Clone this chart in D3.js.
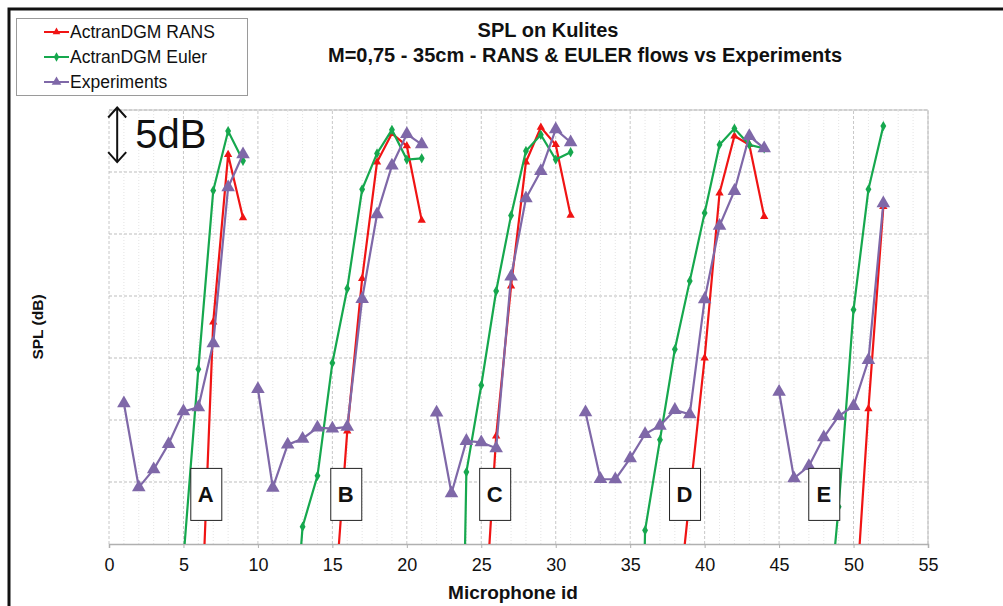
<!DOCTYPE html>
<html>
<head>
<meta charset="utf-8">
<script src="https://cdn.jsdelivr.net/npm/d3@7/dist/d3.min.js"></script>
<style>
  body { margin: 0; background: #fff; }
  text { font-family: "Liberation Sans", Arial, sans-serif; }
</style>
</head>
<body>
<div id="chart"></div>
<script>
// microphone ids along the x axis
const mics = [1, 2, 3, 4, 5, 6, 7, 8, 9, 10, 11, 12, 13, 14, 15, 16, 17, 18, 19, 20,
  21, 22, 23, 24, 25, 26, 27, 28, 29, 30, 31, 32, 33, 34, 35, 36, 37, 38, 39, 40,
  41, 42, 43, 44, 45, 46, 47, 48, 49, 50, 51, 52];

// relative SPL (dB), null = no value; values below 0 run off the bottom of the plot
const rans = [null, null, null, null, null, -12.7, 17.9, 31.4, 26.3,
  null, null, null, null, null, -7.2, 9.1, 21.4, 30.8, 33.1, 32.1, 26.1,
  null, null, null, -10.6, 8.7, 20.8, 30.8, 33.6, 32.2, 26.5,
  null, null, null, null, null, null, -7.6, 3.8, 15.0, 28.3, 32.9, 32.2, 26.4,
  null, null, null, null, null, -7.6, 10.9, 27.2];

const euler = [null, null, null, null, -1.2, 14.1, 28.5, 33.3, 30.9,
  null, null, -14.6, 1.4, 5.5, 14.6, 20.6, 28.6, 31.5, 33.4, 31.0, 31.1,
  null, -60, 5.8, 12.8, 20.4, 26.5, 31.7, 33.0, 31.0, 31.6,
  null, null, null, -60, 1.1, 8.4, 15.7, 21.2, 26.7, 32.2, 33.5, 32.2, 31.9,
  null, null, null, -10, 3.0, 18.9, 28.6, 33.7];

const experiments = [11.35, 4.57, 6.02, 8.06, 10.7, 11.02, 16.19, 28.77, 31.43,
  12.5, 4.54, 8.01, 8.49, 9.38, 9.3, 9.44, 19.76, 26.59, 30.51, 33.06, 32.23,
  10.59, 4.09, 8.31, 8.2, 7.72, 21.56, 27.88, 30.08, 33.44, 32.4,
  10.62, 5.24, 5.22, 6.91, 8.87, 9.54, 10.81, 10.46, 19.73, 25.65, 28.47, 32.9, 31.91,
  12.28, 5.3, 6.29, 8.6, 10.32, 11.13, 14.84, 27.48];

// microphone groups (lines are broken between them)
const groupLabels = ["A", "B", "C", "D", "E"];
const groupFirst = [1, 10, 22, 32, 45];
const groupLast = [9, 21, 31, 44, 52];
const groupBoxX = [6.5, 15.9, 25.9, 38.65, 48.0];

const seriesNames = ["ActranDGM RANS", "ActranDGM Euler", "Experiments"];
const xTicks = [0, 5, 10, 15, 20, 25, 30, 35, 40, 45, 50, 55];
const yGrid = [0, 5, 10, 15, 20, 25, 30, 35];

//Set width and height of the chart
let W = 1003, H = 606;
let margin = { top: 110, right: 75, bottom: 62, left: 109 };

let svg = d3.select("#chart").append("svg")
  .attr("width", W).attr("height", H);

svg.append("rect").attr("width", W).attr("height", H).attr("fill", "#fff");
// outer frame
svg.append("rect")
  .attr("x", 9).attr("y", 9).attr("width", 1000).attr("height", 600)
  .attr("fill", "none").attr("stroke", "#111").attr("stroke-width", 3);

let xScale = d3.scaleLinear().domain([0, 55]).range([margin.left, W - margin.right]);
let yScale = d3.scaleLinear().domain([0, 35]).range([H - margin.bottom, margin.top]);

//Grid lines
let grid = svg.append("g");
grid.selectAll(".minor").data(d3.range(0, 56).filter(d => d % 5 !== 0))
  .enter().append("line")
  .attr("x1", d => xScale(d)).attr("x2", d => xScale(d))
  .attr("y1", yScale(0)).attr("y2", yScale(35))
  .attr("stroke", "#e4e4e4").attr("stroke-dasharray", "1,2");
grid.selectAll(".major").data(xTicks)
  .enter().append("line")
  .attr("x1", d => xScale(d)).attr("x2", d => xScale(d))
  .attr("y1", yScale(0)).attr("y2", yScale(35))
  .attr("stroke", "#c8c8c8").attr("stroke-dasharray", "3,2");
grid.selectAll(".hgrid").data(yGrid.slice(1))
  .enter().append("line")
  .attr("x1", xScale(0)).attr("x2", xScale(55))
  .attr("y1", d => yScale(d)).attr("y2", d => yScale(d))
  .attr("stroke", "#bdbdbd").attr("stroke-dasharray", "3,2");
grid.append("line")
  .attr("x1", xScale(55)).attr("x2", xScale(55))
  .attr("y1", yScale(0)).attr("y2", yScale(35))
  .attr("stroke", "#c0c0c0");
grid.append("line")
  .attr("x1", xScale(0)).attr("x2", xScale(55))
  .attr("y1", yScale(35)).attr("y2", yScale(35))
  .attr("stroke", "#c0c0c0");

//x axis
let xAxis = svg.append("g")
  .attr("transform", "translate(0," + yScale(0) + ")")
  .call(d3.axisBottom(xScale).tickValues(xTicks).tickSize(4).tickPadding(10));
xAxis.select(".domain").attr("stroke", "#b0b0b0").attr("stroke-width", 1.5);
xAxis.selectAll(".tick line").attr("stroke", "#b0b0b0");
xAxis.selectAll(".tick text")
  .attr("font-size", 18).attr("fill", "#111")
  .style("font-family", "'Liberation Sans', Arial, sans-serif");

svg.append("text")
  .attr("x", 513).attr("y", 599)
  .attr("text-anchor", "middle")
  .attr("font-size", 19).attr("font-weight", "bold").attr("fill", "#111")
  .text("Microphone id");

svg.append("text")
  .attr("transform", "translate(43," + 327 + ") rotate(-90)")
  .attr("text-anchor", "middle")
  .attr("font-size", 15.5).attr("font-weight", "bold").attr("fill", "#111")
  .text("SPL (dB)");

//Title
svg.append("text")
  .attr("x", 548).attr("y", 37).attr("text-anchor", "middle")
  .attr("font-size", 20).attr("font-weight", "bold").attr("fill", "#111")
  .text("SPL on Kulites");
svg.append("text")
  .attr("x", 585).attr("y", 62).attr("text-anchor", "middle")
  .attr("font-size", 20).attr("font-weight", "bold").attr("fill", "#111")
  .text("M=0,75 - 35cm - RANS & EULER flows vs Experiments");

//Series
let colors = ["#f01414", "#16a84e", "#7f68a8"];
let symbols = [d3.symbolTriangle, d3.symbolDiamond, d3.symbolTriangle];
let symSize = [30, 30, 80];
let allValues = [rans, euler, experiments];

svg.append("clipPath").attr("id", "plotClip")
  .append("rect")
  .attr("x", xScale(0) - 10).attr("y", yScale(35) - 10)
  .attr("width", xScale(55) - xScale(0) + 20)
  .attr("height", yScale(0) - yScale(35) + 10);

let plot = svg.append("g").attr("clip-path", "url(#plotClip)");

let line = d3.line()
  .defined(d => d.v !== null)
  .x(d => xScale(d.m))
  .y(d => yScale(d.v));

allValues.forEach(function (vals, s) {
  let pts = mics.map((m, i) => ({ m: m, v: vals[i] }));
  groupFirst.forEach(function (first, g) {
    let seg = pts.filter(p => p.m >= first && p.m <= groupLast[g]);
    plot.append("path")
      .datum(seg)
      .attr("fill", "none")
      .attr("stroke", colors[s])
      .attr("stroke-width", 2.2)
      .attr("d", line);
  });
  plot.selectAll(".pt" + s)
    .data(pts.filter(p => p.v !== null && p.v >= 0))
    .enter().append("path")
    .attr("transform", d => "translate(" + xScale(d.m) + "," + yScale(d.v) + ")")
    .attr("d", d3.symbol().type(symbols[s]).size(symSize[s]))
    .attr("fill", colors[s]);
});

//Group label boxes
let boxes = svg.selectAll(".gbox").data(groupLabels).enter().append("g")
  .attr("transform", (d, i) => "translate(" + xScale(groupBoxX[i]) + "," + yScale(4) + ")");
boxes.append("rect")
  .attr("x", -15).attr("y", -26).attr("width", 31).attr("height", 52)
  .attr("fill", "#fff").attr("stroke", "#222").attr("stroke-width", 1);
boxes.append("text")
  .attr("text-anchor", "middle").attr("y", 8)
  .attr("font-size", 22).attr("font-weight", "bold").attr("fill", "#111")
  .text(d => d);

//5dB marker
let ax = xScale(0.55);
svg.append("line")
  .attr("x1", ax).attr("x2", ax)
  .attr("y1", yScale(35.2)).attr("y2", yScale(30.8))
  .attr("stroke", "#111").attr("stroke-width", 2);
svg.append("path")
  .attr("d", "M" + (ax - 9) + "," + (yScale(35.2) + 10) + "L" + ax + "," + yScale(35.2) + "L" + (ax + 9) + "," + (yScale(35.2) + 10))
  .attr("fill", "none").attr("stroke", "#111").attr("stroke-width", 2);
svg.append("path")
  .attr("d", "M" + (ax - 9) + "," + (yScale(30.8) - 10) + "L" + ax + "," + yScale(30.8) + "L" + (ax + 9) + "," + (yScale(30.8) - 10))
  .attr("fill", "none").attr("stroke", "#111").attr("stroke-width", 2);
svg.append("text")
  .attr("x", ax + 18).attr("y", 148)
  .attr("font-size", 40).attr("fill", "#111")
  .text("5dB");

//Legend
let legend = svg.append("g");
legend.append("rect")
  .attr("x", 16.5).attr("y", 18.5).attr("width", 231).attr("height", 77)
  .attr("fill", "#fff").attr("stroke", "#9a9a9a");
seriesNames.forEach(function (name, s) {
  let ly = 32 + s * 25;
  legend.append("line")
    .attr("x1", 44).attr("x2", 69).attr("y1", ly).attr("y2", ly)
    .attr("stroke", colors[s]).attr("stroke-width", 2);
  legend.append("path")
    .attr("transform", "translate(56.5," + ly + ")")
    .attr("d", d3.symbol().type(symbols[s]).size(s === 2 ? 40 : 25))
    .attr("fill", colors[s]);
  legend.append("text")
    .attr("x", 70).attr("y", ly + 6)
    .attr("font-size", 17.5).attr("fill", "#111")
    .text(name);
});
</script>
</body>
</html>
